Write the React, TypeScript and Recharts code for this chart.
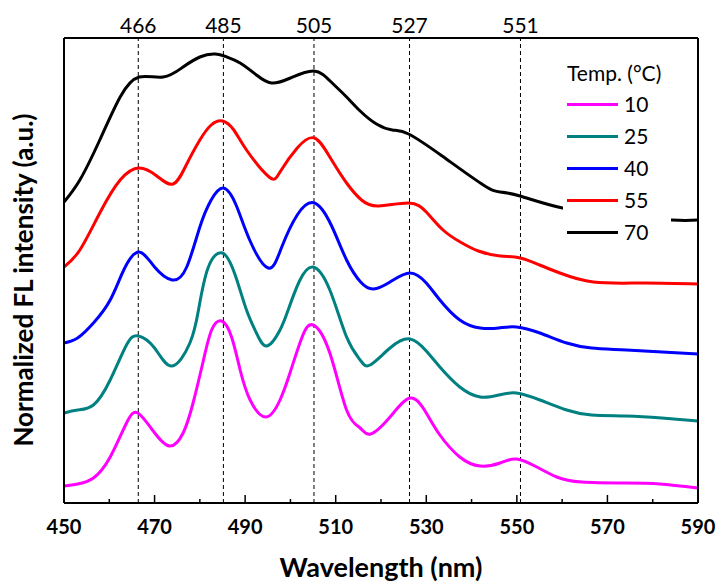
import React from 'react';
import { LineChart, Line, XAxis, YAxis, ReferenceLine, Legend } from 'recharts';

const FONT = 'Lato, "Open Sans", sans-serif';

// legend order / colours
const temps = ['10', '25', '40', '55', '70'];
const colors = ['#FF00FF', '#008080', '#0000FF', '#FF0000', '#000000'];

// dashed peak markers (drawn position, label shown on top)
const peakPos = [466.4, 485.2, 505.2, 526.3, 550.8];
const peakLabels = ['466', '485', '505', '527', '551'];

const xTicks = [450, 460, 470, 480, 490, 500, 510, 520, 530, 540, 550, 560, 570, 580, 590];

// spectra, stacked (arbitrary units incl. vertical offset)
const wl10 = [450, 453, 456.5, 460.2, 463.8, 466.3, 469.7, 473.3, 476.3, 478.5, 480.8, 482.6, 484.8, 487, 488.9, 491.1, 494.6, 497.7, 499.9, 502.5, 505, 508.7, 512.4, 515.4, 517.7, 522, 526.5, 530, 533, 537.4, 541.9, 546.3, 549.9, 554.4, 558.8, 564.3, 574.2, 581.6, 590];
const fl10 = [17, 19, 25, 46, 80, 90, 72, 57, 70, 100, 143, 173, 182, 166, 133, 103, 86, 103, 130, 165, 178, 150, 93, 75, 69, 86, 105, 90, 68, 46, 37, 40, 44, 36, 26, 21, 20, 19, 15];

const wl25 = [450, 453, 456.5, 460.2, 463.8, 466.4, 470, 473.8, 477.8, 479.7, 481.8, 485, 487.8, 490.3, 492.5, 494.8, 497.7, 499.5, 502, 505, 508.7, 512.4, 515.4, 517.6, 522, 526.4, 530, 533, 537.4, 541.9, 546, 549.9, 555.1, 561, 566.5, 574.2, 582, 590];
const fl25 = [90, 93, 98, 123, 158, 167, 155, 137, 160, 193, 235, 250, 228, 193, 170, 157, 173, 193, 222, 236, 213, 166, 143, 138, 155, 164, 152, 136, 116, 106, 108, 110, 103, 93, 88, 87, 85, 82];

const wl40 = [450, 453, 456.5, 460.2, 463.3, 466.6, 470, 473.9, 477.1, 480, 482.5, 485.2, 488, 491, 495.1, 498, 501.5, 505.3, 509, 512.4, 515.5, 518.3, 522, 526.4, 530, 533, 537.4, 541.9, 546, 549.9, 555.1, 561, 566.5, 574.2, 590];
const fl40 = [160, 165, 180, 203, 234, 251, 236, 223, 236, 276, 303, 315, 298, 263, 235, 255, 288, 300, 278, 243, 221, 214, 221, 230, 220, 203, 183, 175, 175, 176, 170, 160, 155, 153, 149];

const wl55 = [450, 453.5, 457.9, 462.4, 466.6, 470.5, 474.1, 477, 480, 482.5, 485, 487.5, 490.3, 495.3, 497.7, 501.5, 505.3, 508.7, 512.4, 515.7, 519.5, 526.1, 530, 533.7, 537.5, 541.5, 546.3, 550.7, 555, 559.5, 566.9, 577.9, 590];
const fl55 = [236, 253, 290, 323, 335, 327, 319, 338, 363, 378, 382, 373, 353, 326, 331, 355, 365, 346, 320, 303, 297, 300, 291, 273, 261, 252, 247, 245, 238, 230, 221, 220, 219];

const wl70 = [450, 453.5, 457.9, 462.4, 466.6, 471.9, 476.3, 480, 483.3, 486, 488.9, 492.5, 495.8, 500, 505.2, 509, 512.4, 515.4, 519, 522.5, 526.1, 533.5, 542.6, 546.3, 550.7, 560.1, 572, 584.2, 590];
const fl70 = [301, 323, 363, 406, 426, 426, 436, 446, 449, 446, 440, 428, 420, 425, 432, 421, 406, 392, 379, 373, 369, 347, 318, 311, 307, 295, 288, 283, 283];

const wlAll = [wl10, wl25, wl40, wl55, wl70];
const flAll = [fl10, fl25, fl40, fl55, fl70];

const series = temps.map((t, i) => ({
  name: t,
  color: colors[i],
  data: wlAll[i].map((x, j) => ({ x, y: flAll[i][j] })),
}));

function BottomTick({ x, y, payload }: any) {
  const major = payload.value % 20 === 10;
  return (
    <g>
      <line x1={x} x2={x} y1={y} y2={y - (major ? 8 : 4)} stroke="#000" strokeWidth={1.5} />
      {major && (
        <text x={x} y={y + 31} textAnchor="middle" fontFamily={FONT} fontWeight="bold" fontSize={20} fill="#000">
          {payload.value}
        </text>
      )}
    </g>
  );
}

function TopTick({ x, y, payload }: any) {
  const major = payload.value % 20 === 10;
  return <line x1={x} x2={x} y1={y} y2={y + (major ? 9 : 4.5)} stroke="#000" strokeWidth={1.5} />;
}

function PeakLabel({ viewBox, value }: any) {
  return (
    <text x={viewBox.x} y={viewBox.y - 5} textAnchor="middle" fontFamily={FONT} fontSize={21} fill="#000">
      {value}
    </text>
  );
}

function LegendBox() {
  return (
    <div style={{ position: 'relative', width: 108, height: 195, background: '#fff', fontFamily: FONT, color: '#000' }}>
      <div style={{ position: 'absolute', left: 4, top: 12, fontSize: 21, lineHeight: '22px', whiteSpace: 'nowrap' }}>Temp. (°C)</div>
      {series.map((s, i) => (
        <div key={s.name} style={{ position: 'absolute', left: 4, top: 43 + 32 * i, height: 22, display: 'flex', alignItems: 'center' }}>
          <span style={{ display: 'inline-block', width: 51, height: 3, background: s.color }} />
          <span style={{ marginLeft: 6, fontSize: 21, lineHeight: '22px' }}>{s.name}</span>
        </div>
      ))}
    </div>
  );
}

export default function App() {
  return (
    <div style={{ position: 'absolute', left: 0, top: 0 }}>
      <LineChart width={718} height={585} margin={{ top: 28, right: 16, bottom: 52, left: 60 }}>
        <XAxis
          xAxisId="b"
          dataKey="x"
          type="number"
          domain={[450, 590]}
          ticks={xTicks}
          interval={0}
          height={30}
          tickSize={0}
          tickMargin={0}
          tickLine={false}
          tick={<BottomTick />}
          axisLine={{ stroke: '#000', strokeWidth: 2 }}
          label={{
            content: () => (
              <text x={381} y={577} textAnchor="middle" fontFamily={FONT} fontWeight="bold" fontSize={27} fill="#000">
                Wavelength (nm)
              </text>
            ),
          }}
        />
        <XAxis
          xAxisId="t"
          orientation="top"
          dataKey="x"
          type="number"
          domain={[450, 590]}
          ticks={xTicks}
          interval={0}
          height={10}
          tickSize={0}
          tickMargin={0}
          tickLine={false}
          tick={<TopTick />}
          axisLine={{ stroke: '#000', strokeWidth: 2 }}
        />
        <YAxis
          yAxisId="l"
          domain={[0, 465]}
          width={4}
          tick={false}
          tickLine={false}
          axisLine={{ stroke: '#000', strokeWidth: 2 }}
          label={{
            content: () => (
              <text
                x={33}
                y={280}
                transform="rotate(-90, 33, 280)"
                textAnchor="middle"
                fontFamily={FONT}
                fontWeight="bold"
                fontSize={26}
                fill="#000"
              >
                Normalized FL intensity (a.u.)
              </text>
            ),
          }}
        />
        <YAxis
          yAxisId="r"
          orientation="right"
          domain={[0, 465]}
          width={4}
          tick={false}
          tickLine={false}
          axisLine={{ stroke: '#000', strokeWidth: 2 }}
        />
        {peakPos.map((p, i) => (
          <ReferenceLine
            key={p}
            x={p}
            xAxisId="b"
            yAxisId="l"
            stroke="#000"
            strokeWidth={1}
            strokeDasharray="4 3"
            label={<PeakLabel value={peakLabels[i]} />}
          />
        ))}
        {series.map((s) => (
          <Line
            key={s.name}
            xAxisId="b"
            yAxisId="l"
            data={s.data}
            dataKey="y"
            name={s.name}
            type="natural"
            stroke={s.color}
            strokeWidth={3}
            dot={false}
            isAnimationActive={false}
          />
        ))}
        <Legend
          layout="vertical"
          align="center"
          verticalAlign="middle"
          content={<LegendBox />}
          wrapperStyle={{ left: 563, top: 50, width: 108, height: 195 }}
        />
      </LineChart>
    </div>
  );
}
